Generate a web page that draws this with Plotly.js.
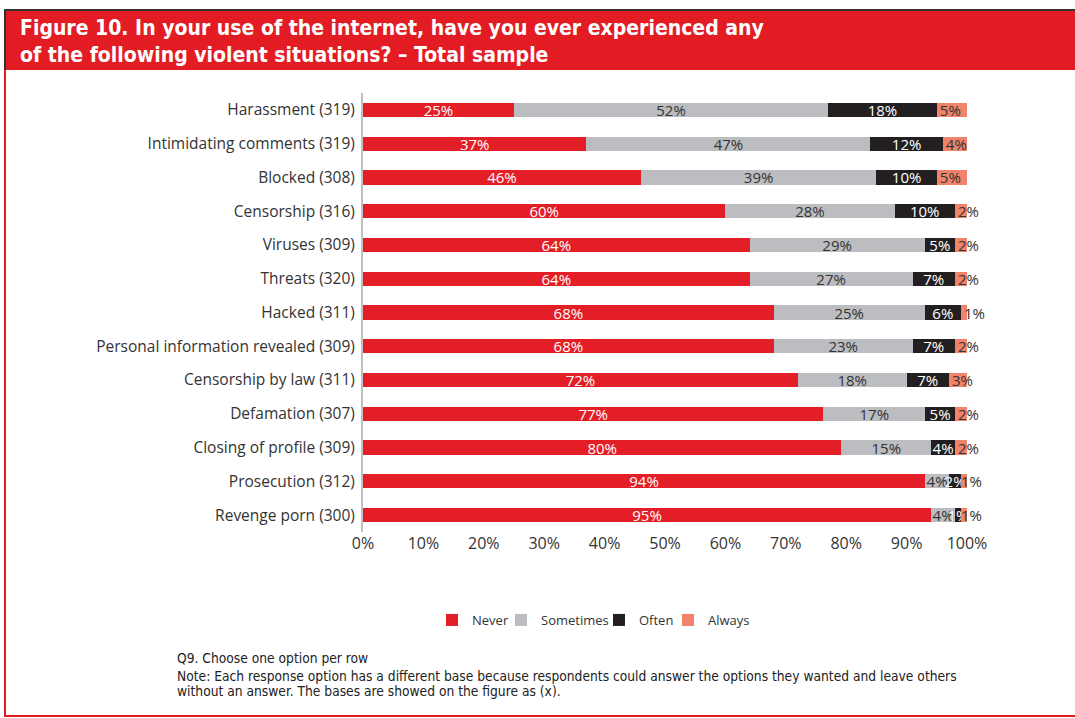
<!DOCTYPE html>
<html>
<head>
<meta charset="utf-8">
<script src="https://cdn.plot.ly/plotly-3.0.1.min.js"></script>
<style>
html,body{margin:0;padding:0;background:#fff;}
#chart{width:1075px;height:718px;}
</style>
</head>
<body>
<div id="chart"></div>
<script>
// ---- data ----
var categories = [
  "Harassment (319)",
  "Intimidating comments (319)",
  "Blocked (308)",
  "Censorship (316)",
  "Viruses (309)",
  "Threats (320)",
  "Hacked (311)",
  "Personal information revealed (309)",
  "Censorship by law (311)",
  "Defamation (307)",
  "Closing of profile (309)",
  "Prosecution (312)",
  "Revenge porn (300)"
];
var never     = [25, 37, 46, 60, 64, 64, 68, 68, 72, 77, 80, 94, 95];
var sometimes = [52, 47, 39, 28, 29, 27, 25, 23, 18, 17, 15, 4, 4];
var often     = [18, 12, 10, 10, 5, 7, 6, 7, 7, 5, 4, 2, 1];
var always    = [5, 4, 5, 2, 2, 2, 1, 2, 3, 2, 2, 1, 1];
var seriesNames = ["Never", "Sometimes", "Often", "Always"];
var xTickVals = [0, 10, 20, 30, 40, 50, 60, 70, 80, 90, 100];
var xTickText = ["0%", "10%", "20%", "30%", "40%", "50%", "60%", "70%", "80%", "90%", "100%"];
var titleText = "Figure 10. In your use of the internet, have you ever experienced any<br>of the following violent situations? \u2013 Total sample";
var noteLines = [
  "Q9. Choose one option per row",
  "Note: Each response option has a different base because respondents could answer the options they wanted and leave others",
  "without an answer. The bases are showed on the figure as (x)."
];

// ---- styling ----
var colors = ["#e41e26", "#bcbdc0", "#231f20", "#f0836a"];
var textColors = ["#ffffff", "#333333", "#ffffff", "#333333"];
var textAnchors = ["middle", "middle", "middle", "start"];
var legendIds = ["legend", "legend2", "legend3", "legend4"];
var legendLeft = [432, 501, 599, 668];
var FONT = "Open Sans, Noto Sans, sans-serif";
var NARROW = "DejaVu Sans Condensed, Liberation Sans Narrow, sans-serif";

var W = 1075, H = 718;
var L = 363, R = 967, T = 93, B = 532;
function px(x) { return (x - L) / (R - L); }
function py(y) { return (B - y) / (B - T); }

var series = [never, sometimes, often, always];
var traces = series.map(function (vals, i) {
  return {
    type: "bar",
    orientation: "h",
    name: seriesNames[i],
    legend: legendIds[i],
    y: categories,
    x: vals,
    text: vals.map(function (v) { return v + "%"; }),
    textposition: "inside",
    insidetextanchor: textAnchors[i],
    constraintext: "none",
    textangle: 0,
    textfont: { family: FONT, size: 15, color: textColors[i] },
    marker: { color: colors[i], line: { width: 0 } },
    cliponaxis: false,
    hoverinfo: "name+text"
  };
});

var red = "#e31b23", dark = "#333333";
var shapes = [
  { type: "rect", xref: "paper", yref: "paper", x0: px(6), x1: px(1076), y0: py(70), y1: py(11),
    fillcolor: red, line: { width: 0 }, layer: "below" },
  { type: "line", xref: "paper", yref: "paper", x0: px(4), x1: px(1076), y0: py(10), y1: py(10),
    line: { color: dark, width: 2 } },
  { type: "line", xref: "paper", yref: "paper", x0: px(5), x1: px(5), y0: py(10), y1: py(70),
    line: { color: dark, width: 2 } },
  { type: "line", xref: "paper", yref: "paper", x0: px(5), x1: px(5), y0: py(70), y1: py(716),
    line: { color: red, width: 2 } },
  { type: "line", xref: "paper", yref: "paper", x0: px(4), x1: px(1076), y0: py(716), y1: py(716),
    line: { color: red, width: 2 } }
];

var noteY = [658, 676, 691];
var annotations = noteLines.map(function (t, i) {
  return {
    text: t, xref: "paper", yref: "paper", x: px(175), y: py(noteY[i]),
    xanchor: "left", yanchor: "middle", showarrow: false, align: "left",
    font: { family: NARROW, size: 13.7, color: "#222222" }
  };
});

var layout = {
  width: W, height: H,
  margin: { l: L, r: W - R, t: T, b: H - B, pad: 0 },
  paper_bgcolor: "#ffffff",
  plot_bgcolor: "#ffffff",
  barmode: "stack",
  barnorm: "percent",
  bargap: 0.58,
  title: {
    text: titleText,
    xref: "container", yref: "container",
    x: 20 / W, xanchor: "left",
    y: 1 - 35 / H, yanchor: "middle",
    font: { family: NARROW, size: 21, color: "#ffffff", weight: "bold" }
  },
  xaxis: {
    range: [0, 100],
    tickvals: xTickVals,
    ticktext: xTickText,
    showgrid: false, zeroline: false, showline: false, ticks: "",
    tickfont: { family: FONT, size: 16, color: "#333333" },
    fixedrange: true
  },
  yaxis: {
    type: "category",
    autorange: "reversed",
    showgrid: false, zeroline: false,
    showline: true, linecolor: "#c0c0c0", linewidth: 2,
    ticks: "", ticklabelstandoff: 3,
    tickfont: { family: FONT, size: 15.5, color: "#333333" },
    fixedrange: true
  },
  shapes: shapes,
  annotations: annotations,
  showlegend: true
};
legendIds.forEach(function (id, i) {
  layout[id] = {
    orientation: "h",
    xref: "container", yref: "container",
    x: legendLeft[i] / W, xanchor: "left",
    y: 1 - 620 / H, yanchor: "middle",
    bgcolor: "rgba(0,0,0,0)",
    font: { family: FONT, size: 13, color: "#333333" }
  };
});

Plotly.newPlot("chart", traces, layout, { displayModeBar: false, staticPlot: true });
</script>
</body>
</html>
